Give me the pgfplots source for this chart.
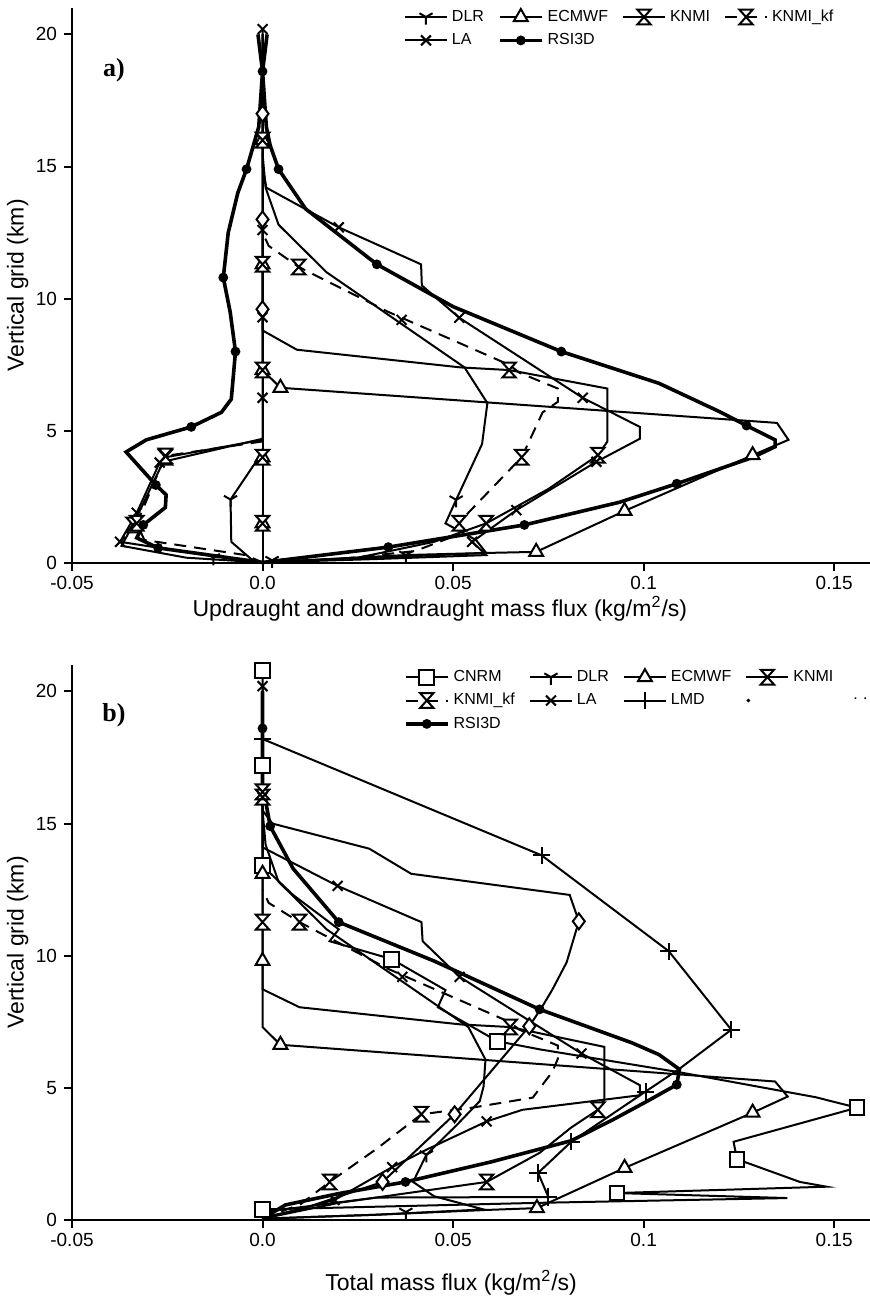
\documentclass[border=0pt]{standalone}
\usepackage{fontspec}
\setmainfont{Liberation Sans}
\newfontfamily\panelfont{Liberation Serif}
\usepackage{pgfplots}
\pgfplotsset{compat=1.18}

\pgfdeclareplotmark{hourglass}{%
  \pgfpathmoveto{\pgfqpoint{-0.9\pgfplotmarksize}{\pgfplotmarksize}}%
  \pgfpathlineto{\pgfqpoint{0.9\pgfplotmarksize}{\pgfplotmarksize}}%
  \pgfpathlineto{\pgfqpoint{-0.9\pgfplotmarksize}{-\pgfplotmarksize}}%
  \pgfpathlineto{\pgfqpoint{0.9\pgfplotmarksize}{-\pgfplotmarksize}}%
  \pgfpathclose
  \pgfusepathqfillstroke
}

\pgfplotsset{
  base/.style={
    scale only axis, width=399pt, height=277.5pt,
    xmin=-0.05, xmax=0.1594, ymin=0, ymax=21,
    axis lines=left, axis line style={-, line width=1pt},
    xtick={-0.05,0,0.05,0.1,0.15}, xticklabels={-0.05,0.0,0.05,0.1,0.15},
    ytick={0,5,10,15,20}, yticklabels={0,5,10,15,20},
    tick align=outside, major tick length=4pt,
    tick style={line width=1pt, black},
    ticklabel style={font=\fontsize{9.5}{11}\selectfont},
    xticklabel style={yshift=1pt},
    label style={font=\fontsize{11.5}{13}\selectfont},
    ylabel={Vertical grid (km)},
    ylabel style={at={(axis description cs:-0.068,0.5)}, anchor=center},
    clip=false,
    legend image code/.code={\draw[mark repeat=2,mark phase=2,#1] plot coordinates {(0pt,0pt)(10.5pt,0pt)(21pt,0pt)};},
    legend style={draw=none, fill=none, anchor=north west,
      font=\fontsize{8}{9.5}\selectfont, legend cell align=left,
      /tikz/every even column/.append style={column sep=5pt}, row sep=0.5pt},
    legend columns=4,
  },
  sdlr/.style={black, line width=1pt, mark=Mercedes star flipped, mark size=3.8pt, mark options={solid, line width=1pt}},
  secmwf/.style={black, line width=1pt, mark=triangle*, mark size=4pt, mark options={solid, fill=white, line width=1pt}},
  sknmi/.style={black, line width=1pt, mark=hourglass, mark size=3.7pt, mark options={solid, fill=white, line width=1pt}},
  sknmikf/.style={sknmi, dash pattern=on 6pt off 4pt},
  sla/.style={black, line width=1pt, mark=x, mark size=3.5pt, mark options={solid, line width=1pt}},
  slmd/.style={black, line width=1pt, mark=+, mark size=4.3pt, mark options={solid, line width=1pt}},
  scnrm/.style={black, line width=1pt, mark=square*, mark size=3.7pt, mark options={solid, fill=white, line width=1pt}},
  srsi/.style={black, line width=1.8pt, mark=*, mark size=1.5pt, mark options={solid}},
  sdiam/.style={black, line width=1pt, mark=diamond*, mark size=4pt, mark options={solid, fill=white, line width=1pt}},
}

\begin{document}
\begin{tikzpicture}
\useasboundingbox (0pt,0pt) rectangle (435pt,652.5pt);

% ================= panel a =================
\begin{axis}[base, at={(36pt,371pt)}, anchor=south west,
  xlabel={Updraught and downdraught mass flux (kg/m\textsuperscript{2}/s)},
  xlabel style={at={(axis description cs:0.461,-0.082)}, anchor=center},
  legend style={at={(axis description cs:0.408,1.012)}},
]
\addlegendimage{sdlr}\addlegendentry{DLR}
\addlegendimage{secmwf}\addlegendentry{ECMWF}
\addlegendimage{sknmi}\addlegendentry{KNMI}
\addlegendimage{sknmikf}\addlegendentry{KNMI\_kf}
\addlegendimage{sla}\addlegendentry{LA}
\addlegendimage{srsi}\addlegendentry{RSI3D}

% unlabelled model (diamonds), zero in this panel
\addplot[sdiam, mark=none, forget plot] coordinates {(0,0) (0,20)};
% DLR
\addplot[sdlr, mark=none, forget plot] coordinates {(0,0.02) (0.0376,0.3) (0.0587,0.38) (0.056,0.87) (0.048,1.5) (0.0508,2.39) (0.0576,4.5) (0.059,6.05) (0.053,7.4) (0.0168,11.0) (0.0042,12.8) (0.0008,14.2) (0,15.5)};
\addplot[sdlr, mark=none, forget plot] coordinates {(0,4.2) (-0.0084,2.4) (-0.0082,0.8) (-0.003,0.15) (0,0.02)};
% ECMWF
\addplot[secmwf, mark=none, forget plot] coordinates {(0,0.02) (0.03,0.2) (0.0587,0.38) (0.0718,0.42) (0.095,1.97) (0.1286,4.08) (0.138,4.66) (0.135,5.3) (0.0047,6.63) (0,7.3) (0,20)};
\addplot[secmwf, mark=none, forget plot] coordinates {(0,0) (0,7.3)};
% KNMI
\addplot[sknmi, mark=none, forget plot] coordinates {(0,0.02) (0.025,0.2) (0.045,0.8) (0.0587,1.5) (0.075,2.8) (0.088,4.08) (0.0905,4.6) (0.0905,6.6) (0.0647,7.3) (0.052,7.4) (0.009,8.07) (0,8.8) (0,20)};
\addplot[sknmi, mark=none, forget plot] coordinates {(0,4.66) (-0.0255,4.0) (-0.034,1.44) (-0.037,0.65) (-0.02,0.2) (0,0.02)};
% KNMI_kf
\addplot[sknmikf, mark=none, forget plot] coordinates {(0,0.02) (0.02,0.15) (0.04,0.45) (0.05,1.0) (0.0516,1.5) (0.054,1.9) (0.068,4.0) (0.0735,5.7) (0.0775,6.1) (0.0775,6.6) (0.0674,7.2) (0.0647,7.5) (0.033,9.5) (0.0095,11.2) (0.0016,12.0) (0,12.5)};
\addplot[sknmikf, mark=none, forget plot] coordinates {(0,4.6) (-0.0255,4.05) (-0.033,1.5) (-0.031,0.87) (-0.0045,0.3) (0,0.02)};
% LA
\addplot[sla, mark=none, forget plot] coordinates {(0,0.02) (0.03,0.15) (0.0587,0.3) (0.055,0.8) (0.0666,2.0) (0.0876,3.83) (0.099,4.7) (0.099,5.15) (0.084,6.25) (0.0516,9.28) (0.0418,10.5) (0.0416,11.3) (0.020,12.7) (0.001,14.2) (0,15) (0,20.2)};
\addplot[sla, mark=none, forget plot] coordinates {(0,12.6) (0,4.7) (-0.027,3.8) (-0.033,1.9) (-0.0374,0.8) (-0.0125,0.25) (0,0.02)};
% RSI3D
\addplot[srsi, mark=none, forget plot] coordinates {(0,0.02) (0.033,0.6) (0.0687,1.44) (0.0937,2.3) (0.1087,3.0) (0.1287,4.0) (0.1345,4.4) (0.1345,4.66) (0.127,5.2) (0.12,5.72) (0.104,6.8) (0.0784,8.0) (0.05,9.7) (0.030,11.3) (0.0113,13.4) (0.0042,14.9) (0.002,15.8) (0.001,16.5) (0,18.6) (0.0012,20)};
\addplot[srsi, mark=none, forget plot] coordinates {(0,0.02) (-0.0274,0.57) (-0.033,0.95) (-0.0313,1.44) (-0.0255,2.1) (-0.0253,2.58) (-0.028,2.95) (-0.0358,4.2) (-0.0305,4.66) (-0.0187,5.15) (-0.0108,5.7) (-0.0082,6.2) (-0.0071,8.0) (-0.0085,9.5) (-0.0103,10.8) (-0.009,12.5) (-0.0065,14.0) (-0.0042,14.9) (-0.001,16.5) (0,18.6) (-0.0012,20)};

% marks
\addplot[sdiam, only marks, forget plot] coordinates {(0,9.6) (0,13.0) (0,17.0)};
\addplot[secmwf, only marks, forget plot] coordinates {(0.0718,0.42) (0.095,1.97) (0.1286,4.08) (0.0047,6.63) (0,7.3) (0,11.3) (0,16.0) (0,1.5) (0,4.0)};
\addplot[sknmi, only marks, forget plot] coordinates {(0.0587,1.5) (0.088,4.08) (0.0647,7.3) (0,11.3) (0,16.0) (0,1.5) (0,4.0) (0,7.3) (-0.0255,4.0) (-0.034,1.44)};
\addplot[sknmikf, only marks, forget plot] coordinates {(0.0516,1.5) (0.068,4.0) (0.0095,11.2) (-0.0255,4.05) (-0.033,1.5)};
\addplot[sdlr, only marks, forget plot] coordinates {(0.0376,0.3) (0.0508,2.39) (-0.0084,2.4) (-0.0129,0.2) (0.0025,0.1)};
\addplot[sla, only marks, forget plot] coordinates {(0.055,0.8) (0.0666,2.0) (0.0876,3.83) (0.084,6.25) (0.0516,9.28) (0.0365,9.2) (0.020,12.7) (0,20.2) (0,12.6) (0,9.3) (0,6.25) (-0.027,3.8) (-0.033,1.9) (-0.0374,0.8)};
\addplot[srsi, only marks, forget plot] coordinates {(0.033,0.6) (0.0687,1.44) (0.1087,3.0) (0.127,5.2) (0.0784,8.0) (0.030,11.3) (0.0042,14.9) (0,18.6) (-0.0274,0.57) (-0.0313,1.44) (-0.028,2.95) (-0.0187,5.15) (-0.0071,8.0) (-0.0103,10.8) (-0.0042,14.9)};

\node[font=\panelfont\bfseries\fontsize{13}{13}\selectfont] at (axis description cs:0.0526,0.888) {a)};
\end{axis}

% ================= panel b =================
\begin{axis}[base, at={(36pt,42.5pt)}, anchor=south west,
  xlabel={Total mass flux (kg/m\textsuperscript{2}/s)},
  xlabel style={at={(axis description cs:0.475,-0.1135)}, anchor=center},
  legend style={at={(axis description cs:0.408,1.006)}},
]
\addlegendimage{scnrm}\addlegendentry{CNRM}
\addlegendimage{sdlr}\addlegendentry{DLR}
\addlegendimage{secmwf}\addlegendentry{ECMWF}
\addlegendimage{sknmi}\addlegendentry{KNMI}
\addlegendimage{sknmikf}\addlegendentry{KNMI\_kf}
\addlegendimage{sla}\addlegendentry{LA}
\addlegendimage{slmd}\addlegendentry{LMD}
\addlegendimage{legend image code/.code={\fill (1pt,0pt) circle (0.7pt);}}\addlegendentry{\hspace{30pt}.\,\,.}
\addlegendimage{srsi}\addlegendentry{RSI3D}

% CNRM
\addplot[scnrm, mark=none, forget plot] coordinates {(0,0.05) (0,0.4) (0.0727,0.65) (0.1377,0.83) (0.093,1.02) (0.148,1.26) (0.141,1.44) (0.1245,2.3) (0.1236,2.96) (0.156,4.25) (0.145,4.65) (0.109,5.6) (0.073,6.45) (0.0617,6.76) (0.046,8.05) (0.048,8.7) (0.0339,9.87) (0.0176,10.55) (0.02,11.0) (0.008,12.3) (0,13.4) (0,20.8)};
% DLR
\addplot[sdlr, mark=none, forget plot] coordinates {(0,0.05) (0.03,0.2) (0.058,0.4) (0.045,0.9) (0.0395,1.44) (0.043,2.47) (0.051,3.6) (0.057,4.5) (0.058,5.05) (0.0585,6.07) (0.054,7.3) (0.0168,11.0) (0.0042,12.8) (0.0008,14.2) (0,15.5) (0,20)};
% ECMWF
\addplot[secmwf, mark=none, forget plot] coordinates {(0,0.05) (0.03,0.2) (0.0587,0.38) (0.072,0.45) (0.095,1.97) (0.1286,4.06) (0.1378,4.67) (0.1345,5.24) (0.0047,6.63) (0,7.3) (0,20)};
% KNMI
\addplot[sknmi, mark=none, forget plot] coordinates {(0,0.05) (0.02,0.65) (0.0588,1.44) (0.0727,2.54) (0.081,3.5) (0.088,4.17) (0.0897,4.55) (0.0897,6.55) (0.065,7.3) (0.052,7.4) (0.0097,8.05) (0,8.73) (0,20)};
% KNMI_kf
\addplot[sknmikf, mark=none, forget plot] coordinates {(0,0.05) (0.01,0.6) (0.0176,1.44) (0.03,2.7) (0.0417,4.0) (0.055,4.25) (0.0709,4.63) (0.076,5.6) (0.0775,6.1) (0.0775,6.6) (0.0674,7.2) (0.0647,7.5) (0.033,9.5) (0.0097,11.27) (0.0016,12.0) (0,12.5)};
% LA
\addplot[sla, mark=none, forget plot] coordinates {(0,0.05) (0.0189,0.76) (0.034,2.0) (0.043,2.66) (0.0588,3.73) (0.0682,4.17) (0.0727,4.25) (0.099,4.72) (0.099,5.1) (0.0837,6.3) (0.0517,9.2) (0.042,10.55) (0.0417,11.27) (0.0197,12.64) (0,14.1) (0,20.2)};
% LMD
\addplot[slmd, mark=none, forget plot] coordinates {(0,0.3) (0.03,0.85) (0.075,0.87) (0.0723,1.78) (0.081,2.96) (0.1005,4.86) (0.1092,5.7) (0.123,7.2) (0.1066,10.17) (0.0732,13.8) (0,18.2) (0,20)};
% unlabelled model (diamonds)
\addplot[sdiam, mark=none, forget plot] coordinates {(0,0.1) (0.01,0.4) (0.0315,1.44) (0.0504,4.0) (0.070,7.33) (0.0735,8.1) (0.0761,8.73) (0.0798,9.75) (0.083,11.3) (0.0806,12.3) (0.039,13.1) (0.028,14.05) (0.0026,15.0) (0,15.5) (0,20)};
% RSI3D
\addplot[srsi, mark=none, forget plot] coordinates {(0,0.05) (0.006,0.57) (0.02,1.0) (0.0375,1.44) (0.06,2.2) (0.081,3.0) (0.092,3.8) (0.101,4.5) (0.1087,5.12) (0.1094,5.7) (0.104,6.26) (0.097,6.7) (0.0727,7.97) (0.045,9.8) (0.02,11.27) (0.008,13.3) (0.002,14.9) (0,16.5) (0,20)};

% marks
\addplot[scnrm, only marks, forget plot] coordinates {(0,0.4) (0.093,1.02) (0.1245,2.3) (0.156,4.25) (0.0617,6.76) (0.0339,9.87) (0,13.4) (0,17.2) (0,20.8)};
\addplot[sdlr, only marks, forget plot] coordinates {(0.043,2.47) (0.0376,0.3)};
\addplot[secmwf, only marks, forget plot] coordinates {(0.072,0.45) (0.095,1.97) (0.1286,4.06) (0.0047,6.63) (0,9.8) (0,13.1)};
\addplot[sknmi, only marks, forget plot] coordinates {(0.0588,1.44) (0.088,4.17) (0.065,7.3) (0,11.27) (0,16.0)};
\addplot[sknmikf, only marks, forget plot] coordinates {(0.0176,1.44) (0.0417,4.0) (0.0097,11.27) (0,16.2)};
\addplot[sla, only marks, forget plot] coordinates {(0.0189,0.76) (0.034,2.0) (0.0588,3.73) (0.0837,6.3) (0.0517,9.2) (0.0367,9.2) (0.0197,12.64) (0,16.0) (0,20.2)};
\addplot[slmd, only marks, forget plot] coordinates {(0.075,0.87) (0.0723,1.78) (0.081,2.96) (0.1005,4.86) (0.123,7.2) (0.1066,10.17) (0.0732,13.8) (0,18.2)};
\addplot[sdiam, only marks, forget plot] coordinates {(0.0315,1.44) (0.0504,4.0) (0.070,7.33) (0.083,11.3)};
\addplot[srsi, only marks, forget plot] coordinates {(0.0375,1.44) (0.1087,5.12) (0.0727,7.97) (0.02,11.27) (0.002,14.9) (0,18.6)};

\node[font=\panelfont\bfseries\fontsize{13}{13}\selectfont] at (axis description cs:0.0526,0.91) {b)};
\end{axis}
\end{tikzpicture}
\end{document}
